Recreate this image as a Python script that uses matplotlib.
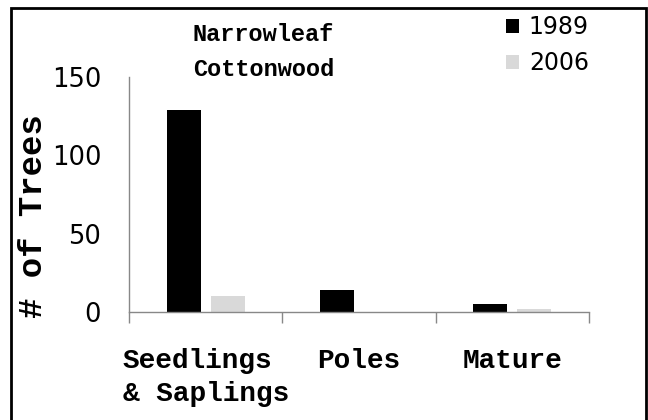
import numpy as np
import matplotlib.pyplot as plt
from matplotlib.patches import Rectangle
from matplotlib.ticker import FixedLocator

# tree counts by size class
categories = ['Seedlings\n& Saplings', 'Poles', 'Mature']
years = ['1989', '2006']
counts_1989 = [129, 14, 5]
counts_2006 = [10, 0, 2]
colors = ['#000000', '#d9d9d9']

mono = 'Liberation Mono'
sans = 'DejaVu Sans'

fig = plt.figure(figsize=(6.48, 4.2), dpi=100)
ax = fig.add_axes([0.199, 0.257, 0.710, 0.5595])

x = np.arange(len(categories))
w = 0.222
off = 0.144
b1 = ax.bar(x - off, counts_1989, w, color=colors[0], label=years[0])
b2 = ax.bar(x + off, counts_2006, w, color=colors[1], label=years[1])

ax.set_xlim(-0.5, 2.5)
ax.set_ylim(0, 150)
ax.set_yticks([0, 50, 100, 150])
ax.tick_params(axis='y', length=0, pad=20, labelsize=18.5)
for t in ax.get_yticklabels():
    t.set_fontfamily(sans)

# boundary ticks between categories, labels sit in the middle
ax.xaxis.set_major_locator(FixedLocator([-0.5, 0.5, 1.5, 2.5]))
ax.xaxis.set_minor_locator(FixedLocator(x))
ax.set_xticklabels([], minor=False)
ax.set_xticklabels(categories, minor=True, fontfamily=mono, fontsize=20, fontweight='bold',
                   multialignment='left', linespacing=1.35)
ax.tick_params(axis='x', which='major', length=8, width=1, color='#888888', direction='out')
ax.tick_params(axis='x', which='minor', length=0, pad=26)

for s in ['top', 'right']:
    ax.spines[s].set_visible(False)
for s in ['left', 'bottom']:
    ax.spines[s].set_color('#888888')
    ax.spines[s].set_linewidth(1)

ax.set_ylabel('# of Trees', fontfamily=mono, fontweight='bold', fontsize=24.5)
ax.yaxis.set_label_coords(-80 / 460, (312 - 216) / 235)

# title block
fig.text(193 / 648, 1 - 52 / 420, 'Narrowleaf\nCottonwood', fontfamily=mono, fontsize=17,
         fontweight='bold', ha='left', va='center', linespacing=1.62)

leg = fig.legend(handles=[b1, b2], loc='upper left', bbox_to_anchor=(497 / 648, 1 - 6 / 420),
                 frameon=False, prop={'family': sans, 'size': 17},
                 handlelength=0.55, handleheight=0.55, handletextpad=0.4, labelspacing=0.5,
                 borderaxespad=0)

# outer border
fig.patches.append(Rectangle((11 / 648, -0.05), (646 - 11) / 648, 1.05 - 8 / 420,
                             transform=fig.transFigure, fill=False, edgecolor='black',
                             linewidth=2, clip_on=False))

fig.savefig('out.png', dpi=100)
